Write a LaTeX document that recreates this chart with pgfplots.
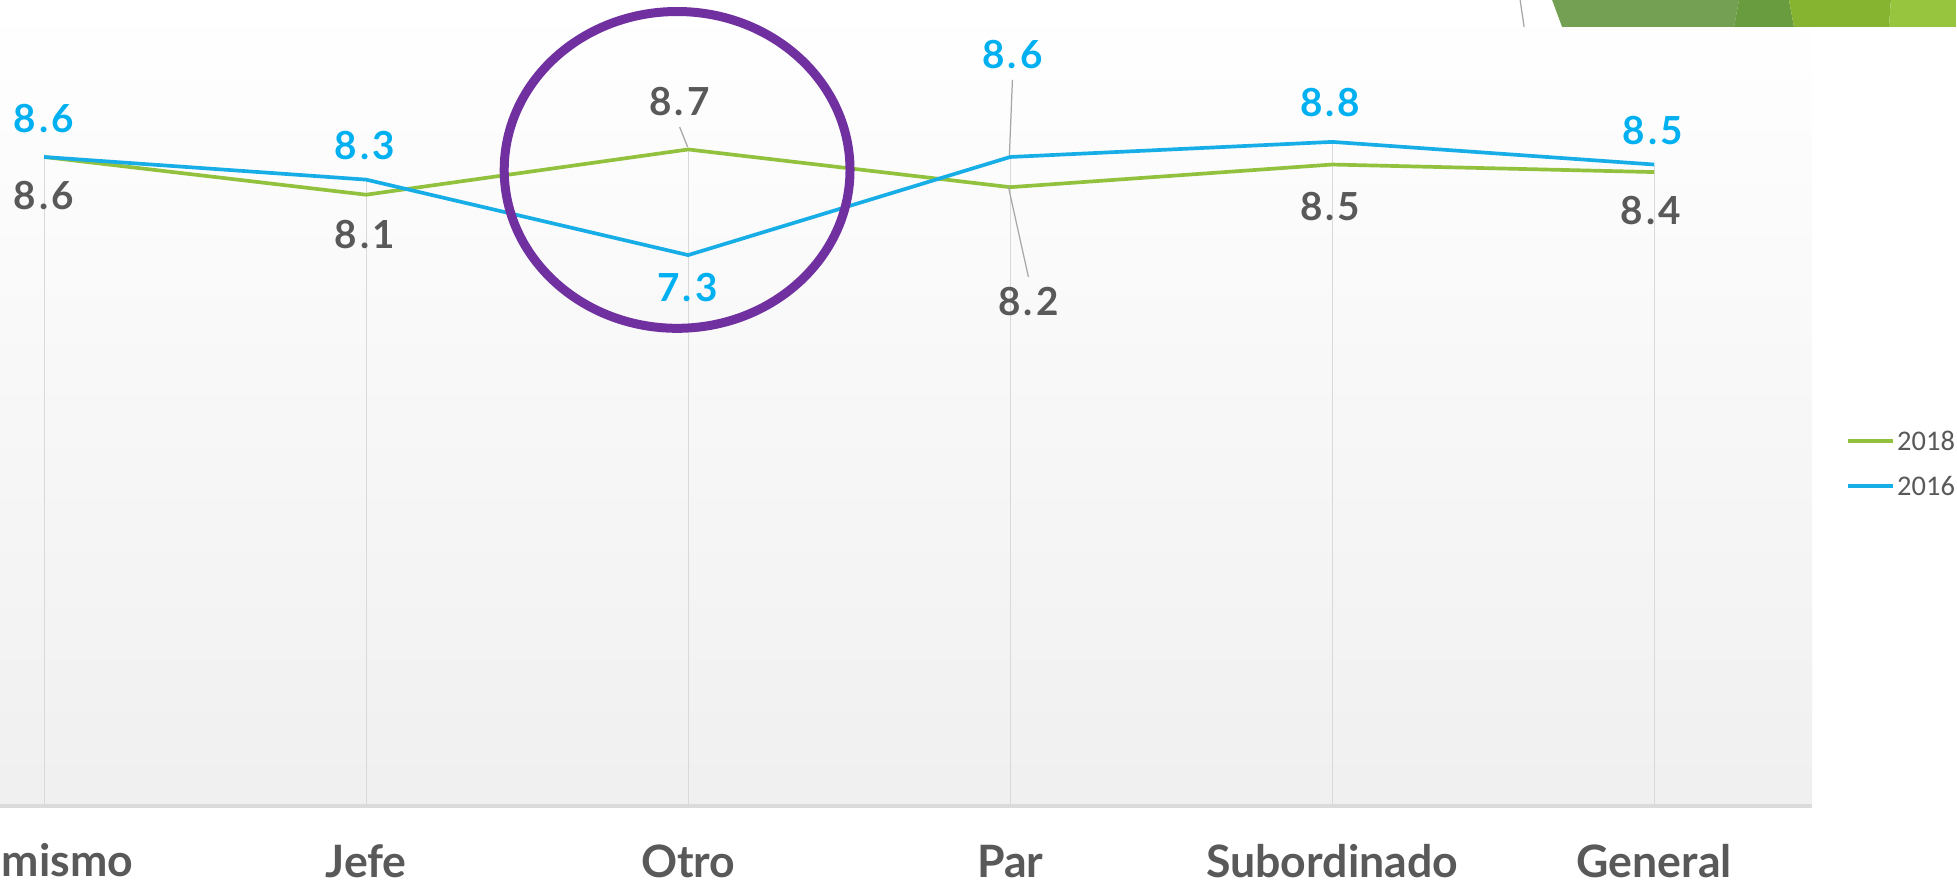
\documentclass[border=0pt]{standalone}
\usepackage{fontspec}
\setmainfont{Lato}
\newfontfamily\legendfont{Carlito}
\usepackage{pgfplots}
\pgfplotsset{compat=1.18}
\definecolor{g18}{HTML}{92C13E}
\definecolor{b16}{HTML}{17ADE6}
\definecolor{blab}{HTML}{00B0F0}
\definecolor{txt}{HTML}{595959}
\definecolor{grd}{HTML}{D9D9D9}
\definecolor{purp}{HTML}{7030A0}
\definecolor{dg1}{HTML}{74A053}
\definecolor{dg2}{HTML}{699B3F}
\definecolor{dg3}{HTML}{87B430}
\definecolor{dg4}{HTML}{98C53E}
\newcommand\lab[2]{#1\kern0.9pt.\kern0.9pt#2}
\begin{document}
\begin{tikzpicture}
\useasboundingbox (0,-0.76) rectangle (19.57,8.06);
\clip (0,-0.76) rectangle (19.57,8.06);
\begin{axis}[
  at={(0,0)}, anchor=south west,
  width=18.12cm, height=8.06cm, scale only axis,
  xmin=-0.137, xmax=5.49, ymin=0, ymax=10.68,
  axis x line*=bottom, axis y line=none,
  x axis line style={draw=black!14, line width=1.2pt},
  axis background/.style={shade, top color=white, bottom color=black!6},
  xtick={0,...,5},
  xticklabels={{}, Jefe, Otro, Par, Subordinado, General},
  xticklabel style={anchor=base, yshift=-0.71cm, text=txt,
    font=\bfseries\fontsize{12.7}{15}\selectfont},
  major tick length=0pt,
  ytick=\empty,
  legend style={at={(axis description cs:1.0185,0.425)}, anchor=west,
    draw=none, fill=none, inner sep=0pt, row sep=6pt,
    font=\legendfont\fontsize{8.1}{10}\selectfont, text=txt,
    nodes={inner sep=0.6pt, text depth=0pt}},
  legend cell align=left,
  legend image code/.code={\draw[#1, line width=1.1pt] (0cm,0cm) -- (0.45cm,0cm);},
]
\addplot[ycomb, draw=grd, line width=0.35pt, forget plot] coordinates {(0,8.6)(1,8.3)(2,8.7)(3,8.6)(4,8.8)(5,8.5)};
\addplot[g18, line width=1.05pt, mark=none] coordinates {(0,8.6)(1,8.1)(2,8.7)(3,8.2)(4,8.5)(5,8.4)};
\addlegendentry{2018}
\addplot[b16, line width=1.05pt, mark=none] coordinates {(0,8.6)(1,8.3)(2,7.3)(3,8.6)(4,8.8)(5,8.5)};
\addlegendentry{2016}
\end{axis}
\begin{scope}[x=0.01cm, y=-0.01cm, shift={(0,8.06cm)}]
  % decoration top right
  \fill[dg1] (1553,0) -- (1740,0) -- (1735,27) -- (1563,27) -- cycle;
  \fill[dg2] (1740,0) -- (1790,0) -- (1795,27) -- (1735,27) -- cycle;
  \fill[dg3] (1790,0) -- (1892,0) -- (1890,27) -- (1795,27) -- cycle;
  \fill[dg4] (1892,0) -- (1957,0) -- (1957,27) -- (1890,27) -- cycle;
  \draw[black!35, line width=0.35pt] (1521,0) -- (1525,27);
  % leader lines
  \draw[black!35, line width=0.35pt] (680,127) -- (688,147);
  \draw[black!35, line width=0.35pt] (1013,80) -- (1010,155);
  \draw[black!35, line width=0.35pt] (1009,187) -- (1029,277);
  % first category label (cut by the slide edge)
  \node[anchor=base west, inner sep=0pt, text=txt, font=\bfseries\fontsize{12.7}{15}\selectfont] at (1,877) {mismo};
  % data labels
  \tikzset{lb/.style={inner sep=0pt, text depth=0pt, text=blab, font=\bfseries\fontsize{11}{13}\selectfont},
           lg/.style={inner sep=0pt, text depth=0pt, text=txt, font=\bfseries\fontsize{11}{13}\selectfont}}
  \node[lb] at (44,118.5) {\lab86};
  \node[lg] at (44,195.5) {\lab86};
  \node[lb] at (365,145) {\lab83};
  \node[lg] at (365,234) {\lab81};
  \node[lg] at (680,101) {\lab87};
  \node[lb] at (688,288) {\lab73};
  \node[lb] at (1013,54) {\lab86};
  \node[lg] at (1029,302) {\lab82};
  \node[lb] at (1331,102) {\lab88};
  \node[lg] at (1331,206) {\lab85};
  \node[lb] at (1654,130) {\lab85};
  \node[lg] at (1652,210) {\lab84};
  % highlight ellipse
  \draw[purp, line width=0.09cm] (677.5,170) ellipse [x radius=173, y radius=158.5];
\end{scope}
\end{tikzpicture}
\end{document}
